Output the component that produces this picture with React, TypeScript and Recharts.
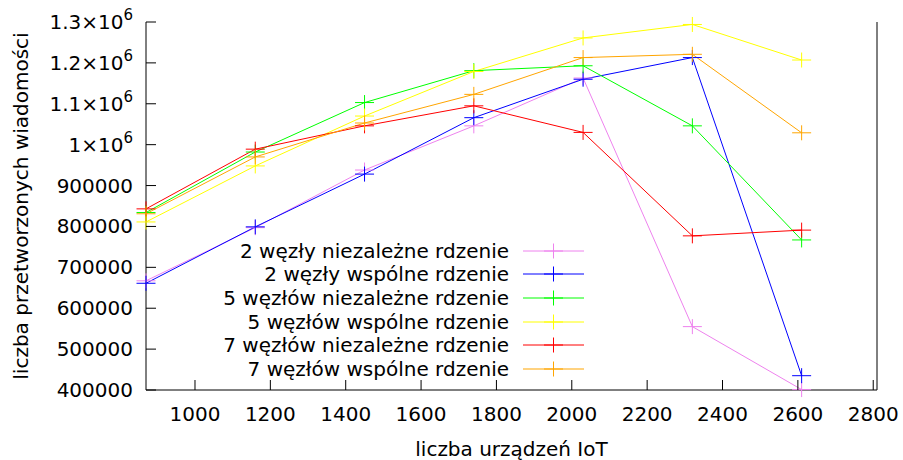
import React from 'react';
import { LineChart, Line, XAxis, YAxis, Legend, Label } from 'recharts';

// liczba urządzeń IoT (oś X)
const devices = [870, 1160, 1450, 1740, 2030, 2320, 2610];

// liczba przetworzonych wiadomości dla każdej konfiguracji
const twoIndep = [667000, 797000, 938000, 1046000, 1163000, 555000, 401000];
const twoShared = [661000, 799000, 928000, 1066000, 1160000, 1213000, 435000];
const fiveIndep = [834000, 982000, 1103000, 1181000, 1193000, 1046000, 767000];
const fiveShared = [811000, 948000, 1070000, 1179000, 1261000, 1294000, 1207000];
const sevenIndep = [843000, 989000, 1046000, 1095000, 1030000, 777000, 791000];
const sevenShared = [831000, 970000, 1053000, 1123000, 1213000, 1221000, 1029000];

const xTicks = [1000, 1200, 1400, 1600, 1800, 2000, 2200, 2400, 2600, 2800];
const yTicks = [400000, 500000, 600000, 700000, 800000, 900000, 1000000, 1100000, 1200000, 1300000];

const series = [
  { key: 'twoIndep', name: '2 węzły niezależne rdzenie', color: '#ee82ee', values: twoIndep },
  { key: 'twoShared', name: '2 węzły wspólne rdzenie', color: '#0000ff', values: twoShared },
  { key: 'fiveIndep', name: '5 węzłów niezależne rdzenie', color: '#00ff00', values: fiveIndep },
  { key: 'fiveShared', name: '5 węzłów wspólne rdzenie', color: '#ffff00', values: fiveShared },
  { key: 'sevenIndep', name: '7 węzłów niezależne rdzenie', color: '#ff0000', values: sevenIndep },
  { key: 'sevenShared', name: '7 węzłów wspólne rdzenie', color: '#ffa500', values: sevenShared },
];

const data = devices.map((x, i) => {
  const row: Record<string, number> = { x };
  series.forEach((s) => (row[s.key] = s.values[i]));
  return row;
});

const FONT = 'DejaVu Sans';
const TICK = 10;

function Plus({ cx, cy, color }: { cx: number; cy: number; color: string }) {
  return (
    <g stroke={color} strokeWidth={1}>
      <line x1={cx - 9.5} y1={cy} x2={cx + 9.5} y2={cy} />
      <line x1={cx} y1={cy - 7.5} x2={cx} y2={cy + 7.5} />
    </g>
  );
}

function BottomTick(props: any) {
  const { x, y, payload } = props;
  return (
    <g>
      <line x1={x} y1={y} x2={x} y2={y - TICK} stroke="#000" />
      <text x={x} y={y + 24} textAnchor="middle" dominantBaseline="central" fontFamily={FONT} fontSize={20} fill="#000">
        {payload.value}
      </text>
    </g>
  );
}

function TopTick(props: any) {
  const { x, y } = props;
  return <line x1={x} y1={y} x2={x} y2={y + TICK} stroke="#000" />;
}

function LeftTick(props: any) {
  const { x, y, payload } = props;
  const v = payload.value as number;
  const big = v >= 1000000;
  return (
    <g>
      <line x1={x} y1={y} x2={x + TICK} y2={y} stroke="#000" />
      <text x={x - 13} y={y + 7} textAnchor="end" fontFamily={FONT} fontSize={20} fill="#000">
        {big ? (
          <>
            {`${+(v / 1000000).toFixed(1)}×10`}
            <tspan fontSize={15} dy={-9}>6</tspan>
          </>
        ) : (
          v
        )}
      </text>
    </g>
  );
}

function RightTick(props: any) {
  const { x, y } = props;
  return <line x1={x} y1={y} x2={x - TICK} y2={y} stroke="#000" />;
}

function renderLegend(props: any) {
  const { payload } = props;
  return (
    <div style={{ fontFamily: FONT, fontSize: 20, color: '#000' }}>
      {payload.map((p: any) => (
        <div key={p.value} style={{ display: 'flex', alignItems: 'center', height: 23.65 }}>
          <span style={{ width: 309, textAlign: 'right', whiteSpace: 'nowrap', lineHeight: '20px' }}>{p.value}</span>
          <svg width={76} height={20} style={{ display: 'block' }}>
            <line x1={14} y1={10} x2={75} y2={10} stroke={p.color} strokeWidth={1} />
            <Plus cx={44.5} cy={10} color={p.color} />
          </svg>
        </div>
      ))}
    </div>
  );
}

export default function App() {
  return (
    <div style={{ position: 'absolute', left: 0, top: 0, width: 903, height: 460, background: '#fff' }}>
      <LineChart width={903} height={460} data={data} margin={{ top: 22, right: 0, bottom: 0, left: 0 }}>
        <XAxis
          xAxisId="bottom"
          dataKey="x"
          type="number"
          domain={[870, 2810]}
          ticks={xTicks}
          orientation="bottom"
          height={70}
          tickSize={0}
          tickMargin={0}
          tickLine={false}
          axisLine={{ stroke: '#000' }}
          tick={<BottomTick />}
          interval={0}
        >
          <Label
            content={(p: any) => {
              const vb = p.viewBox;
              return (
                <text x={vb.x + vb.width / 2} y={vb.y + 59} textAnchor="middle" dominantBaseline="central" fontFamily={FONT} fontSize={20} fill="#000">
                  liczba urządzeń IoT
                </text>
              );
            }}
          />
        </XAxis>
        <XAxis
          xAxisId="top"
          dataKey="x"
          type="number"
          domain={[870, 2810]}
          ticks={xTicks}
          orientation="top"
          height={0}
          tickSize={0}
          tickMargin={0}
          tickLine={false}
          axisLine={{ stroke: '#000' }}
          tick={<TopTick />}
          interval={0}
        />
        <YAxis
          yAxisId="left"
          type="number"
          domain={[400000, 1300000]}
          ticks={yTicks}
          orientation="left"
          width={146}
          tickSize={0}
          tickMargin={0}
          tickLine={false}
          axisLine={{ stroke: '#000' }}
          tick={<LeftTick />}
          interval={0}
        >
          <Label
            content={(p: any) => {
              const vb = p.viewBox;
              const cx = vb.x + 21;
              const cy = vb.y + vb.height / 2;
              return (
                <text x={cx} y={cy} transform={`rotate(-90 ${cx} ${cy})`} textAnchor="middle" dominantBaseline="central" fontFamily={FONT} fontSize={20} fill="#000">
                  liczba przetworzonych wiadomości
                </text>
              );
            }}
          />
        </YAxis>
        <YAxis
          yAxisId="right"
          type="number"
          domain={[400000, 1300000]}
          ticks={yTicks}
          orientation="right"
          width={26}
          tickSize={0}
          tickMargin={0}
          tickLine={false}
          axisLine={{ stroke: '#000' }}
          tick={<RightTick />}
          interval={0}
        />
        <Legend
          layout="vertical"
          align="center"
          verticalAlign="middle"
          content={renderLegend}
          wrapperStyle={{ position: 'absolute', left: 200, top: 239, width: 400, height: 'auto' }}
        />
        {series.map((s) => (
          <Line
            key={s.key}
            xAxisId="bottom"
            yAxisId="left"
            type="linear"
            dataKey={s.key}
            name={s.name}
            stroke={s.color}
            strokeWidth={1}
            isAnimationActive={false}
            dot={(p: any) => <Plus key={`${s.key}-${p.index}`} cx={p.cx} cy={p.cy} color={s.color} />}
            activeDot={false}
          />
        ))}
      </LineChart>
    </div>
  );
}
